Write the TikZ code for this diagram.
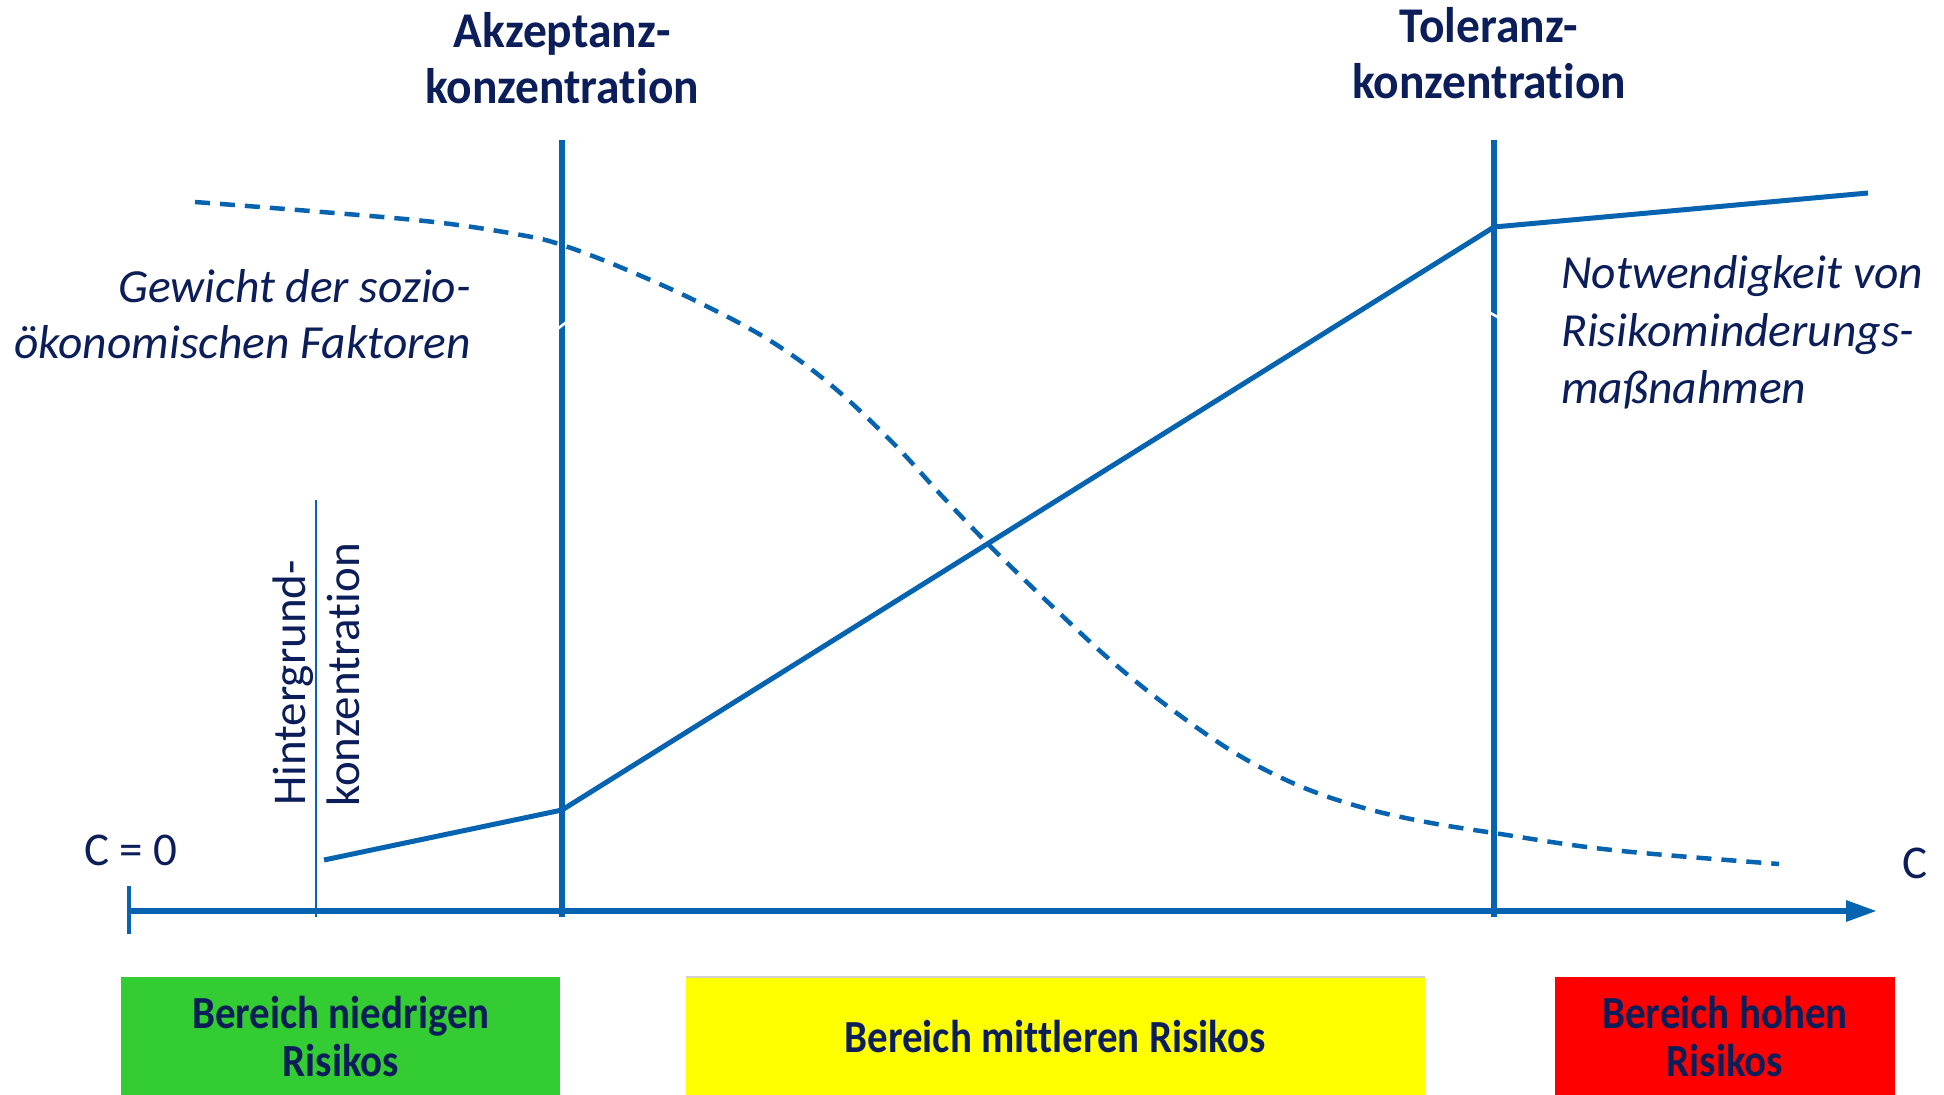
\documentclass[tikz,border=0pt]{standalone}
\usepackage{fontspec}
\setmainfont{Carlito}[Ligatures=NoCommon]
\newfontfamily\zonefont{Carlito}[FakeStretch=0.89, Ligatures=NoCommon]
\newfontfamily\headfont{Carlito}[FakeStretch=0.95, Ligatures=NoCommon]
\usetikzlibrary{arrows.meta}

\definecolor{lineblue}{RGB}{5,99,176}
\definecolor{navy}{RGB}{12,30,90}
\definecolor{zonegreen}{RGB}{51,204,51}
\definecolor{zoneyellow}{RGB}{255,255,0}
\definecolor{zonered}{RGB}{255,0,0}

\begin{document}
\begin{tikzpicture}[x=1pt,y=-1pt,
  lbl/.style={text=navy, inner sep=0pt, anchor=base},
  headline/.style={lbl, font=\headfont\fontsize{50}{56}\selectfont\bfseries},
  note/.style={lbl, font=\fontsize{47.5}{56}\selectfont\itshape},
  plainlbl/.style={lbl, font=\fontsize{47}{56}\selectfont},
  zonelbl/.style={lbl, font=\zonefont\fontsize{46}{50}\selectfont\bfseries},
  limitline/.style={draw=lineblue, line width=6.5pt},
  axisline/.style={draw=lineblue, line width=6pt},
  riskline/.style={draw=lineblue, line width=5pt, line join=miter},
  weightline/.style={draw=lineblue, line width=4.5pt, dash pattern=on 15pt off 10pt},
  gapline/.style={draw=white, line width=2.5pt}]

\useasboundingbox (0,0) rectangle (1944,1095);

% coloured risk zones (cut off at the lower edge)
\fill[zonegreen]  (121,977) rectangle (560,1095);
\fill[zoneyellow] (686,977) rectangle (1425,1095);
\draw[black!18, line width=2pt] (686,977) -- (1425,977);
\fill[zonered]    (1555,977) rectangle (1895,1095);

\node[zonelbl] (zlow1) at (341,1028) {Bereich niedrigen};
\node[zonelbl] (zlow2) at (341,1076) {Risikos};
\node[zonelbl] (zmid)  at (1055,1052) {Bereich mittleren Risikos};
\node[zonelbl] (zhigh1) at (1725,1028) {Bereich hohen};
\node[zonelbl] (zhigh2) at (1725,1076) {Risikos};

% concentration axis
\coordinate (origin) at (129,911);
\coordinate (axisend) at (1877,911);
\draw[axisline, -{Triangle[length=31pt,width=20pt]}] (origin) -- (axisend);
\draw[lineblue, line width=4pt] (129,886) -- (129,934);

% background concentration
\coordinate (bgtop) at (316,500);
\coordinate (bgbot) at (316,917);
\draw[lineblue, line width=2pt] (bgtop) -- (bgbot);
\node[plainlbl, anchor=base west, rotate=90] (bg1) at (305,806) {Hintergrund-};
\node[plainlbl, anchor=base west, rotate=90] (bg2) at (359,807) {konzentration};

% acceptance and tolerance limits
\coordinate (acctop) at (562,140);
\coordinate (accbot) at (562,917);
\coordinate (toltop) at (1494,140);
\coordinate (tolbot) at (1494,917);
\draw[limitline] (acctop) -- (accbot);
\draw[limitline] (toltop) -- (tolbot);
\draw[gapline] (555,331) -- (569,320);
\draw[gapline] (1487,311) -- (1501,319);

\node[headline] (acc1) at (562,47) {Akzeptanz-};
\node[headline] (acc2) at (562,103) {konzentration};
\node[headline] (tol1) at (1489,42) {Toleranz-};
\node[headline] (tol2) at (1489,98) {konzentration};

% need for risk reduction measures
\coordinate (r0) at (324,860);
\coordinate (r1) at (562,810);
\coordinate (r2) at (1494,227);
\coordinate (r3) at (1868,193);
\draw[riskline] (r0) -- (r1) -- (r2) -- (r3);

% weight of socio-economic factors
\draw[weightline] plot[smooth, tension=0.6] coordinates {
  (195,202) (310,211) (434,222) (521,235) (562,245) (620,267) (694,300)
  (769,340) (831,385) (893,443) (942,496) (992,548) (1054,608) (1116,665)
  (1178,714) (1240,756) (1302,787) (1364,808) (1426,822) (1494,833)
  (1612,850) (1779,864)};

\node[note, anchor=base east] (w1) at (471,302) {Gewicht der sozio-};
\node[note, anchor=base east] (w2) at (471,358) {ökonomischen Faktoren};

\node[note, anchor=base west] (n1) at (1561,288) {Notwendigkeit von};
\node[note, anchor=base west] (n2) at (1561,346) {Risikominderungs-};
\node[note, anchor=base west] (n3) at (1561,403) {maßnahmen};

% axis labels
\node[plainlbl] (c0) at (131,865) {C = 0};
\node[plainlbl] (cend) at (1915,878) {C};

\end{tikzpicture}
\end{document}
